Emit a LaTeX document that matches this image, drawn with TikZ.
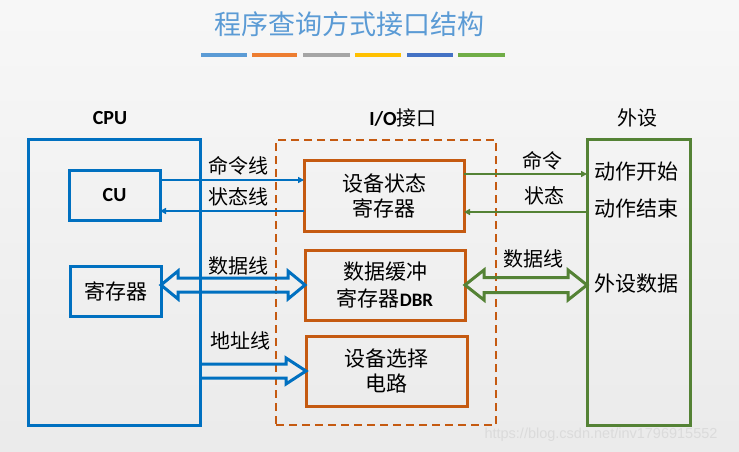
\documentclass[tikz,border=0pt]{standalone}
\usepackage{fontspec}
\setmainfont{Carlito}
\newfontfamily\cjk{Noto Sans CJK SC}
\newfontfamily\wmfont{Liberation Sans}
\usetikzlibrary{calc,arrows.meta}
\definecolor{cpublue}{HTML}{0070C0}
\definecolor{ioorange}{HTML}{C55A11}
\definecolor{devgreen}{HTML}{548235}
\definecolor{titleblue}{HTML}{5B9BD5}
\definecolor{barA}{HTML}{5B9BD5}
\definecolor{barB}{HTML}{ED7D31}
\definecolor{barC}{HTML}{A5A5A5}
\definecolor{barD}{HTML}{FFC000}
\definecolor{barE}{HTML}{4472C4}
\definecolor{barF}{HTML}{70AD47}
\begin{document}
\begin{tikzpicture}[x=1pt,y=-1pt,
  box/.style={draw, line width=3pt, inner sep=0pt, outer sep=0pt, align=center},
  iobox/.style={draw=ioorange, dashed, dash pattern=on 8pt off 5pt, line width=2pt, inner sep=0pt, outer sep=0pt},
  boxtxt/.style={font=\cjk\fontsize{21}{25}\selectfont},
  lbl/.style={font=\cjk\fontsize{20}{24}\selectfont, inner sep=0pt},
  head/.style={font=\bfseries\fontsize{20}{24}\selectfont, inner sep=0pt},
  thinarr/.style={line width=2pt, -{Triangle[length=6pt,width=6pt]}},
  dblarr/.style={line width=3pt, line join=miter},
  bar/.style={line width=4pt}]
\shade[top color=white!97!black, bottom color=white!92!black] (0,0) rectangle (739,452);
\useasboundingbox (0,0) rectangle (739,452);

% title
\node[font=\cjk\fontsize{27}{30}\selectfont, text=titleblue, inner sep=0pt] (title) at (349,24) {程序查询方式接口结构};
\draw[bar, barA] (201,55) -- (247,55);
\draw[bar, barB] (252,55) -- (297,55);
\draw[bar, barC] (303,55) -- (350,55);
\draw[bar, barD] (355,55) -- (401,55);
\draw[bar, barE] (407,55) -- (453,55);
\draw[bar, barF] (458,55) -- (505,55);

% headings
\node[head] (hcpu) at (110,118) {CPU};
\node[head] (hio) at (403,118) {I/O{\cjk\mdseries 接口}};
\node[lbl] (hdev) at (637,118) {外设};

% boxes
\node[box, draw=cpublue, minimum width=172pt, minimum height=286pt] (cpu) at (114,282) {};
\node[box, draw=cpublue, minimum width=91pt, minimum height=50pt, font=\bfseries\fontsize{20}{24}\selectfont] (cu) at (114.5,195) {CU};
\node[box, draw=cpublue, minimum width=91pt, minimum height=50pt, boxtxt] (reg) at (115.5,291) {寄存器};

\node[iobox, minimum width=220pt, minimum height=285pt] (io) at (386,282.5) {};
\node[box, draw=ioorange, minimum width=160pt, minimum height=71pt, boxtxt] (dsr) at (384,195.5) {设备状态\\寄存器};
\node[box, draw=ioorange, minimum width=160pt, minimum height=70pt, boxtxt, font=\cjk\fontsize{21}{27}\selectfont] (dbr) at (385,285) {数据缓冲\\寄存器{\rmfamily\bfseries\fontsize{19}{27}\selectfont DBR}};
\node[box, draw=ioorange, minimum width=161pt, minimum height=70pt, boxtxt] (sel) at (386.5,371) {设备选择\\电路};

\node[box, draw=devgreen, minimum width=103pt, minimum height=286pt] (dev) at (638.5,282) {};
\node[lbl, font=\cjk\fontsize{21}{24}\selectfont] (d1) at (636,172) {动作开始};
\node[lbl, font=\cjk\fontsize{21}{24}\selectfont] (d2) at (636,209) {动作结束};
\node[lbl, font=\cjk\fontsize{21}{24}\selectfont] (d3) at (636,284) {外设数据};

% CPU side thin arrows
\coordinate (c1) at ($(cu.east)+(0,-15)$);
\coordinate (c2) at ($(cu.east)+(0,16)$);
\draw[thinarr, cpublue] (c1) -- (c1 -| dsr.west);
\draw[thinarr, cpublue] (c2 -| dsr.west) -- (c2);
\node[lbl] (l1) at (238,166) {命令线};
\node[lbl] (l2) at (238,197) {状态线};

% data double arrow (blue)
\coordinate (da1) at (reg.east |- dbr.west);
\draw[cpublue, dblarr] (da1) -- ++(17,-14) -- ++(0,7) -- ($(dbr.west)+(-17,-7)$) -- ++(0,-7) -- (dbr.west) -- ++(-17,14) -- ++(0,-7) -- ($(da1)+(17,7)$) -- ++(0,7) -- cycle;
\node[lbl] (l3) at (238,266) {数据线};

% address arrow
\coordinate (aa) at (cpu.east |- sel.west);
\draw[cpublue, dblarr] ($(aa)+(0,-7)$) -- ($(sel.west)+(-20,-7)$) -- ++(0,-6) -- (sel.west) -- ++(-20,13) -- ++(0,-6) -- ($(aa)+(0,7)$);
\node[lbl] (l4) at (240,341) {地址线};

% device side thin arrows
\coordinate (g1) at ($(dsr.east)+(0,-21.5)$);
\coordinate (g2) at ($(dsr.east)+(0,16.5)$);
\draw[thinarr, devgreen] (g1) -- (g1 -| dev.west);
\draw[thinarr, devgreen] (g2 -| dev.west) -- (g2);
\node[lbl] (l5) at (542,161) {命令};
\node[lbl] (l6) at (544,196) {状态};

% data double arrow (green)
\coordinate (gd1) at (dev.west |- dbr.east);
\draw[devgreen, dblarr] (dbr.east) -- ++(19,-15) -- ++(0,7.5) -- ($(gd1)+(-19,-7.5)$) -- ++(0,-7.5) -- (gd1) -- ++(-19,15) -- ++(0,-7.5) -- ($(dbr.east)+(19,7.5)$) -- ++(0,7.5) -- cycle;
\node[lbl] (l7) at (533,259) {数据线};

% watermark
\node[font=\wmfont\fontsize{14.5}{16}\selectfont, text=white!86!black, inner sep=0pt] (wm) at (601,435) {https://blog.csdn.net/inv1796915552};
\end{tikzpicture}
\end{document}
